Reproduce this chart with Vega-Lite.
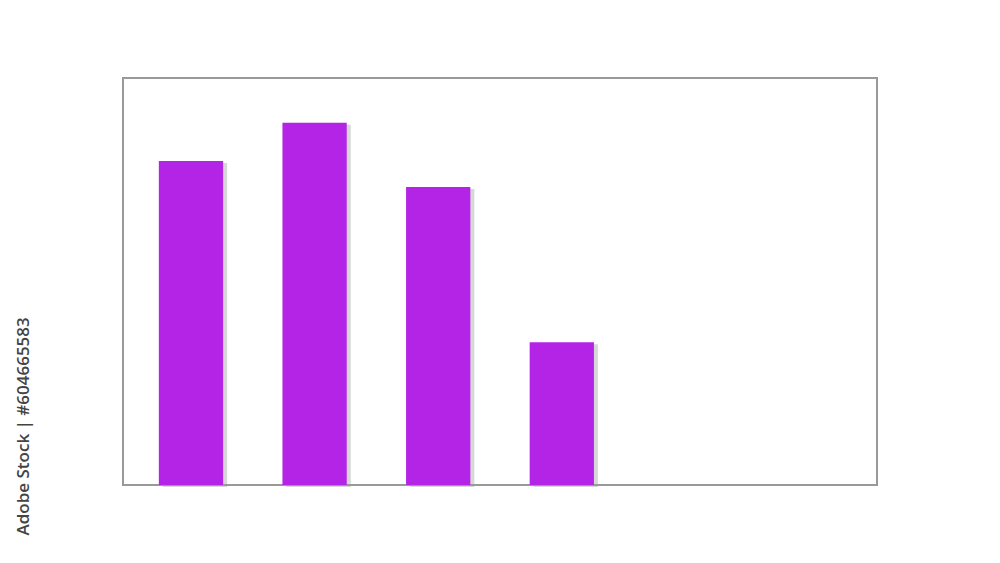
{
  "$schema": "https://vega.github.io/schema/vega-lite/v6.json",
  "autosize": "none",
  "width": 754,
  "height": 407,
  "padding": {"left": 123, "top": 78, "right": 123, "bottom": 78},
  "background": "white",
  "config": {
    "view": {"stroke": "#999999", "strokeWidth": 2}
  },
  "data": {
    "values": [
      {"cat": "1", "value": 79.6},
      {"cat": "2", "value": 89.0},
      {"cat": "3", "value": 73.2},
      {"cat": "4", "value": 35.1}
    ]
  },
  "encoding": {
    "x": {
      "field": "cat",
      "type": "nominal",
      "scale": {"domain": ["1", "2", "3", "4", "5", "6"], "paddingInner": 0.48, "paddingOuter": 0.29},
      "axis": null
    },
    "y": {
      "field": "value",
      "type": "quantitative",
      "scale": {"domain": [0, 100], "nice": false},
      "axis": {
        "title": "Adobe Stock | #604665583",
        "labels": false,
        "ticks": false,
        "domain": false,
        "grid": false,
        "titleX": -91,
        "titleY": 457,
        "titleAngle": -90,
        "titleAlign": "left",
        "titleBaseline": "bottom",
        "titleFont": "Open Sans",
        "titleFontSize": 17,
        "titleFontWeight": 600,
        "titleColor": "#444444"
      }
    }
  },
  "layer": [
    {
      "mark": {"type": "bar", "color": "#9a9a9a", "opacity": 0.4, "xOffset": 4, "yOffset": 2}
    },
    {
      "mark": {"type": "bar", "color": "#B324E6"}
    }
  ]
}
